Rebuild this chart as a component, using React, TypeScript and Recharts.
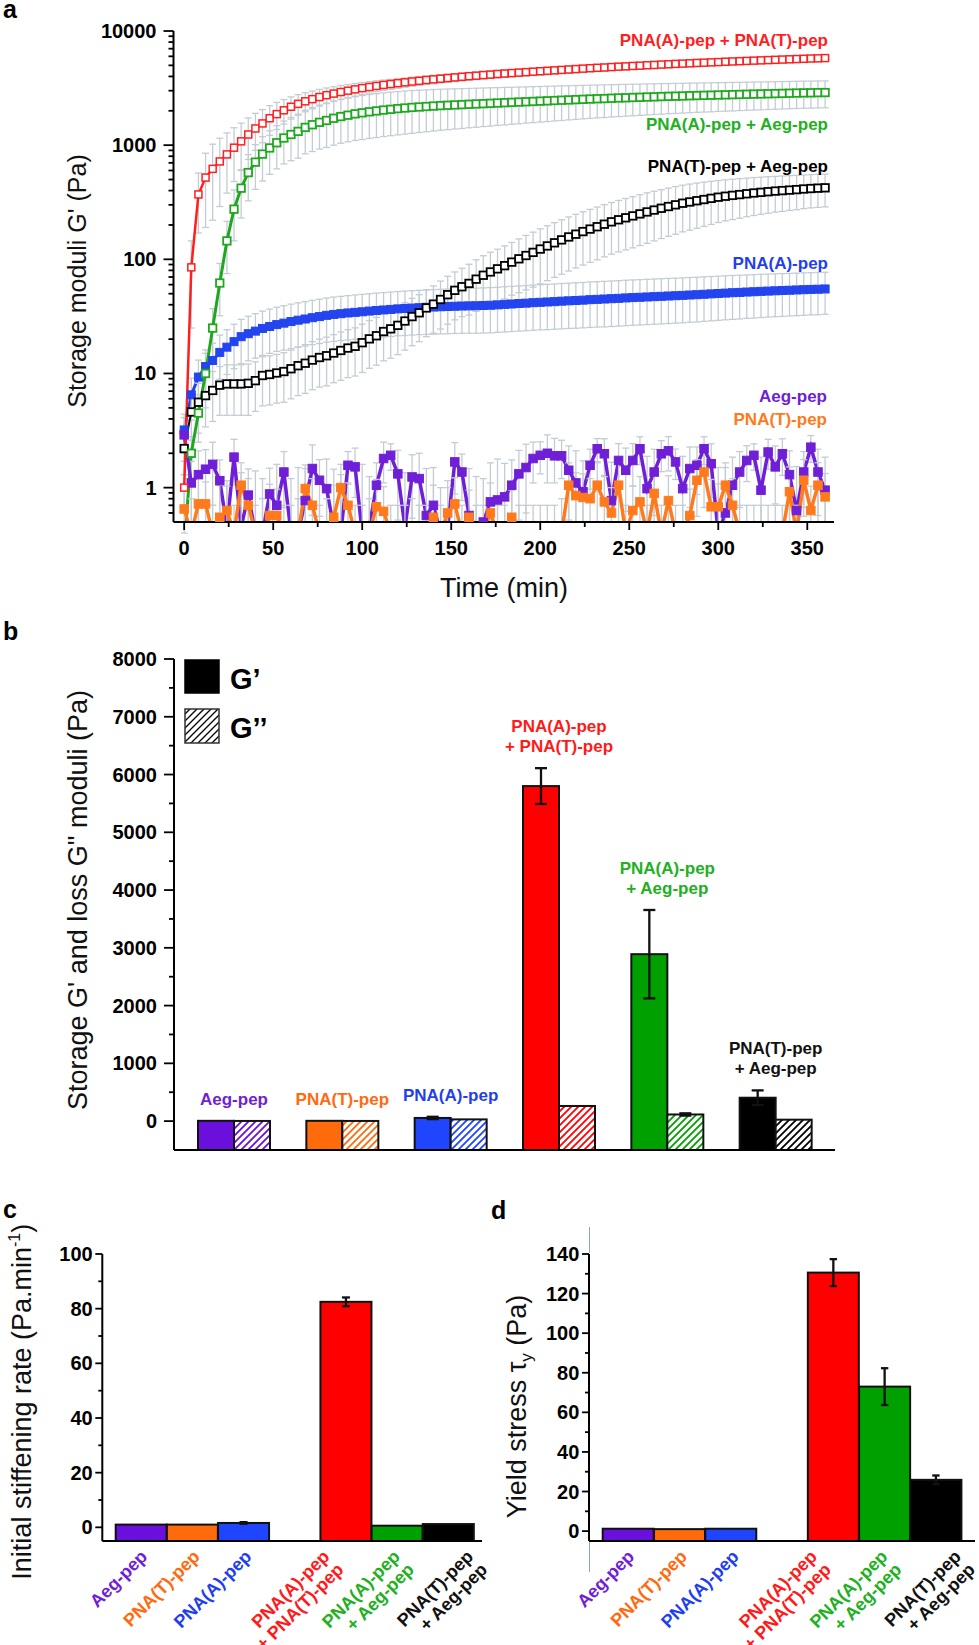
import React from 'react'
import { LineChart, Line, XAxis, YAxis, ErrorBar, BarChart, Bar, LabelList, Legend } from 'recharts'

const FONT = '"Liberation Sans", Arial, Helvetica, sans-serif'

// ---------- panel a : G' against time ----------
const aTime = [0, 4, 8, 12, 16, 20, 24, 28, 32, 36,
  40, 44, 48, 52, 56, 60, 64, 68, 72, 76,
  80, 84, 88, 92, 96, 100, 104, 108, 112, 116,
  120, 124, 128, 132, 136, 140, 144, 148, 152, 156,
  160, 164, 168, 172, 176, 180, 184, 188, 192, 196,
  200, 204, 208, 212, 216, 220, 224, 228, 232, 236,
  240, 244, 248, 252, 256, 260, 264, 268, 272, 276,
  280, 284, 288, 292, 296, 300, 304, 308, 312, 316,
  320, 324, 328, 332, 336, 340, 344, 348, 352, 356,
  360]

const aPnaAPnaT = [1, 85, 370, 520, 620, 720, 830, 950, 1080, 1240,
  1400, 1550, 1720, 1870, 2020, 2170, 2300, 2420, 2530, 2640,
  2740, 2830, 2920, 3000, 3080, 3160, 3230, 3300, 3370, 3430,
  3490, 3550, 3610, 3660, 3720, 3770, 3820, 3870, 3920, 3970,
  4020, 4060, 4110, 4150, 4200, 4240, 4280, 4320, 4360, 4400,
  4440, 4480, 4520, 4560, 4600, 4640, 4680, 4720, 4760, 4790,
  4830, 4870, 4900, 4940, 4970, 5010, 5040, 5080, 5110, 5150,
  5180, 5210, 5250, 5280, 5310, 5340, 5380, 5410, 5440, 5470,
  5500, 5530, 5560, 5590, 5620, 5650, 5680, 5710, 5740, 5760,
  5790]
const aPnaAPnaTErr = [0.3, 60, 200, 330, 400, 430, 450, 470, 480, 490,
  500, 500, 500, 500, 490, 480, 470, 460, 450, 440,
  430, 420, 410, 400, 390, 380, 370, 360, 350, 345,
  340, 335, 330, 325, 320, 318, 316, 314, 312, 310,
  310, 310, 310, 310, 310, 310, 310, 310, 310, 310,
  310, 310, 310, 310, 310, 310, 310, 310, 310, 310,
  310, 310, 310, 310, 310, 310, 310, 310, 310, 310,
  310, 310, 310, 310, 310, 310, 310, 310, 310, 310,
  310, 310, 310, 310, 310, 310, 310, 310, 310, 310,
  310]

const aPnaAAeg = [0.3, 2.0, 4.5, 10, 25, 62, 145, 275, 420, 575,
  710, 835, 945, 1050, 1155, 1240, 1320, 1430, 1510, 1585,
  1645, 1720, 1780, 1830, 1880, 1920, 1960, 1995, 2030, 2060,
  2090, 2115, 2140, 2160, 2180, 2200, 2220, 2235, 2250, 2265,
  2280, 2295, 2310, 2325, 2340, 2355, 2370, 2385, 2400, 2415,
  2430, 2445, 2460, 2475, 2490, 2505, 2520, 2535, 2550, 2560,
  2575, 2590, 2600, 2615, 2625, 2640, 2650, 2665, 2675, 2685,
  2695, 2710, 2720, 2730, 2740, 2750, 2760, 2770, 2780, 2790,
  2800, 2810, 2820, 2830, 2840, 2850, 2860, 2870, 2875, 2885,
  2890]
const aPnaAAegErr = [0.1, 0.8, 2, 5, 12, 30, 70, 130, 190, 250,
  300, 350, 390, 430, 470, 510, 550, 590, 630, 660,
  690, 720, 740, 760, 780, 800, 815, 830, 840, 850,
  860, 865, 870, 870, 870, 870, 870, 870, 865, 865,
  860, 860, 855, 855, 850, 850, 845, 845, 840, 840,
  835, 835, 830, 830, 825, 825, 820, 820, 815, 815,
  810, 810, 805, 805, 800, 800, 795, 795, 790, 790,
  785, 785, 780, 780, 780, 775, 775, 775, 770, 770,
  770, 770, 768, 768, 766, 766, 766, 765, 765, 765,
  765]

const aPnaTAeg = [2.2, 4.6, 5.6, 6.4, 7.1, 7.9, 8.1, 8.1, 8.1, 8.2,
  8.65, 9.6, 9.8, 10.1, 10.4, 11.0, 11.7, 12.3, 13.1, 13.8,
  14.3, 15.1, 15.9, 16.7, 17.3, 18.6, 20.1, 21.4, 23.3, 24.6,
  26.4, 28.8, 31.5, 34, 37.5, 40.5, 44.5, 49, 53.5, 57.5,
  61.5, 67, 72.5, 77.5, 82.5, 88, 94.5, 101, 108, 115,
  123, 131, 139.5, 148, 157, 166, 175, 184, 193, 203,
  213, 222, 231, 240, 250, 260, 270, 280, 290, 300,
  310, 318, 326, 334, 342, 350, 357, 363, 369, 375,
  381, 386, 391, 396, 400, 404, 408, 413, 417, 420,
  423]
const aPnaTAegErr = [0.9, 2.0, 2.6, 3.0, 3.3, 3.6, 3.8, 3.8, 3.8, 3.9,
  4.0, 4.4, 4.5, 4.6, 4.8, 5.0, 5.3, 5.6, 5.9, 6.2,
  6.5, 6.8, 7.2, 7.5, 7.8, 8.4, 9.0, 9.6, 10.4, 11,
  11.8, 12.8, 14, 15, 16.5, 18, 20, 22, 24, 26,
  29, 32, 35, 38, 40, 43, 46, 50, 54, 58,
  62, 66, 70, 74, 78, 82, 86, 90, 94, 98,
  102, 106, 110, 114, 118, 122, 125, 128, 131, 134,
  136, 138, 139, 140, 140, 140, 140, 140, 140, 139,
  139, 138, 138, 137, 137, 136, 136, 135, 135, 135,
  135]

const aPnaA = [3.2, 6.5, 9.3, 11.5, 13, 15.3, 17, 19, 21, 22.3,
  23.5, 24.8, 25.8, 26.8, 27.6, 28.5, 29.3, 30, 30.8, 31.5,
  32.3, 32.9, 33.4, 33.9, 34.3, 34.7, 35.2, 35.6, 36, 36.4,
  36.8, 37.1, 37.4, 37.7, 38, 38.2, 38.4, 38.6, 38.8, 39,
  39.1, 39.2, 39.4, 39.6, 39.9, 40.3, 40.6, 41.0, 41.3, 41.7,
  42.0, 42.3, 42.6, 43.0, 43.3, 43.6, 43.9, 44.3, 44.6, 44.9,
  45.2, 45.5, 45.9, 46.2, 46.5, 46.8, 47.1, 47.4, 47.7, 48.0,
  48.3, 48.7, 49.0, 49.4, 49.8, 50.2, 50.6, 51.0, 51.3, 51.7,
  52.0, 52.4, 52.7, 53.0, 53.3, 53.6, 53.9, 54.2, 54.5, 54.7,
  55.0]
const aPnaAErr = [1.2, 2.6, 3.8, 4.6, 5.4, 6.4, 7.2, 8, 8.8, 9.4,
  9.9, 10.4, 10.8, 11.2, 11.6, 12, 12.3, 12.6, 12.9, 13.2,
  13.5, 13.8, 14, 14.2, 14.4, 14.6, 14.8, 15, 15.1, 15.3,
  15.4, 15.6, 15.7, 15.8, 16, 16.1, 16.2, 16.3, 16.4, 16.5,
  16.6, 16.7, 16.8, 16.9, 17, 17.2, 17.3, 17.5, 17.6, 17.8,
  17.9, 18.1, 18.2, 18.4, 18.5, 18.7, 18.8, 19, 19.1, 19.3,
  19.4, 19.5, 19.7, 19.8, 19.9, 20, 20.1, 20.2, 20.3, 20.4,
  20.5, 20.6, 20.7, 20.8, 20.9, 21, 21.1, 21.2, 21.3, 21.3,
  21.4, 21.5, 21.5, 21.6, 21.7, 21.7, 21.8, 21.9, 21.9, 22,
  22]

const aAeg = [2.9, 1.1, 1.3, 1.45, 1.6, 1.15, 0.45, 1.85, 0.45, 0.86,
  0.4, 0.4, 0.88, 0.7, 1.37, 0.4, 0.4, 0.77, 1.47, 1.16,
  0.98, 0.45, 0.4, 1.57, 1.52, 0.4, 0.45, 1.05, 1.8, 1.92,
  1.32, 0.45, 1.24, 1.2, 0.57, 0.7, 0.4, 0.45, 1.68, 1.37,
  0.57, 0.45, 0.5, 0.75, 0.78, 0.83, 1.05, 1.32, 1.5, 1.8,
  1.92, 2.0, 1.9, 1.9, 1.42, 1.1, 0.92, 1.57, 2.19, 1.98,
  0.77, 1.73, 1.42, 1.73, 2.19, 0.98, 1.37, 1.98, 2.1, 1.68,
  0.98, 1.47, 1.57, 2.19, 1.62, 0.4, 0.6, 1.05, 1.37, 1.73,
  1.92, 0.95, 2.05, 1.52, 1.98, 1.3, 0.63, 1.37, 2.26, 1.37,
  0.95]
const aAegErr = [1.2, 0.6, 0.8, 0.7, 0.9, 0.6, 0.7, 0.8, 0.9, 0.6,
  1.0, 0.8, 0.6, 0.9, 0.7, 0.8, 1.1, 0.7, 0.9, 0.6,
  0.8, 1.0, 0.9, 0.5, 0.7, 1.2, 0.8, 0.6, 0.7, 0.5,
  0.8, 0.9, 0.7, 0.8, 0.9, 0.8, 0.6, 0.7, 0.8, 0.6,
  0.9, 0.8, 0.7, 0.9, 1.0, 0.8, 0.7, 0.8, 0.9, 0.7,
  0.6, 0.9, 0.8, 0.7, 0.9, 1.0, 0.8, 0.6, 0.5, 0.7,
  0.9, 0.7, 0.8, 0.7, 0.6, 0.9, 0.8, 0.6, 0.7, 0.5,
  0.9, 0.8, 0.7, 0.6, 0.8, 1.1, 0.9, 0.8, 0.7, 0.6,
  0.5, 0.9, 0.6, 0.8, 0.7, 0.8, 0.9, 0.7, 0.6, 0.8,
  0.9]

const aPnaT = [0.65, 0.4, 0.72, 0.72, 0.4, 0.55, 0.63, 0.4, 1.05, 0.7,
  0.4, 0.4, 0.57, 0.57, 0.4, 0.4, 0.4, 0.98, 0.7, 0.4,
  0.4, 0.55, 1.0, 0.7, 0.4, 0.4, 0.4, 0.68, 0.62, 0.4,
  0.4, 0.4, 0.4, 0.4, 0.4, 0.55, 0.4, 0.6, 0.72, 0.4,
  0.55, 0.4, 0.4, 0.6, 0.4, 0.4, 0.55, 0.4, 0.4, 0.4,
  0.4, 0.4, 0.4, 0.4, 1.05, 0.85, 0.82, 0.8, 1.05, 0.75,
  0.6, 1.05, 0.4, 0.63, 0.75, 0.4, 0.89, 0.4, 0.77, 0.4,
  0.4, 0.57, 1.16, 1.37, 0.68, 0.68, 1.05, 0.7, 0.4, 0.4,
  0.4, 0.4, 0.4, 0.4, 0.4, 0.92, 0.4, 1.16, 0.63, 1.05,
  0.83]
const aPnaTErr = [0.3, 0.4, 0.5, 0.4, 0.3, 0.5, 0.4, 0.3, 0.6, 0.5,
  0.3, 0.4, 0.5, 0.4, 0.3, 0.3, 0.4, 0.6, 0.5, 0.3,
  0.4, 0.5, 0.6, 0.4, 0.3, 0.3, 0.4, 0.5, 0.4, 0.3,
  0.3, 0.3, 0.4, 0.3, 0.3, 0.5, 0.3, 0.4, 0.5, 0.3,
  0.4, 0.3, 0.3, 0.5, 0.3, 0.3, 0.4, 0.3, 0.3, 0.3,
  0.3, 0.3, 0.3, 0.4, 0.6, 0.5, 0.5, 0.4, 0.6, 0.5,
  0.4, 0.6, 0.3, 0.4, 0.5, 0.3, 0.5, 0.3, 0.5, 0.3,
  0.3, 0.4, 0.6, 0.7, 0.5, 0.4, 0.6, 0.5, 0.3, 0.3,
  0.3, 0.3, 0.3, 0.3, 0.3, 0.6, 0.3, 0.6, 0.4, 0.6,
  0.5]

const aXTicks = [0, 25, 50, 75, 100, 125, 150, 175, 200, 225, 250, 275, 300, 325, 350]
const aYTicks = [0.6, 0.7, 0.8, 0.9, 1, 2, 3, 4, 5, 6, 7, 8, 9, 10, 20, 30, 40, 50, 60, 70, 80, 90,
  100, 200, 300, 400, 500, 600, 700, 800, 900, 1000, 2000, 3000, 4000, 5000, 6000, 7000, 8000, 9000, 10000]
const aYMin = 0.5

// ---------- panel b : final G' and G'' ----------
const bGroups = ['Aeg-pep', 'PNA(T)-pep', 'PNA(A)-pep', 'PNA(A)-pep\n+ PNA(T)-pep', 'PNA(A)-pep\n+ Aeg-pep', 'PNA(T)-pep\n+ Aeg-pep']
const bStorage = [5, 5, 55, 5800, 2890, 405]
const bStorageErr = [0, 0, 20, 310, 765, 127]
const bLoss = [3, 3, 30, 262, 115, 25]
const bLossErr = [0, 0, 5, 12, 20, 5]
const bBase = -500
const bYTicks = [0, 500, 1000, 1500, 2000, 2500, 3000, 3500, 4000, 4500, 5000, 5500, 6000, 6500, 7000, 7500, 8000]
const bLegend = ['G’', 'G’’']

// ---------- panels c and d ----------
const cdGroups = ['Aeg-pep', 'PNA(T)-pep', 'PNA(A)-pep', '', 'PNA(A)-pep\n+ PNA(T)-pep', 'PNA(A)-pep\n+ Aeg-pep', 'PNA(T)-pep\n+ Aeg-pep']
const cRate = [1.0, 1.0, 1.6, null, 82.5, 0.6, 1.2]
const cRateErr = [0, 0, 0.3, 0, 1.6, 0, 0]
const cBase = -5
const cYTicks = [0, 10, 20, 30, 40, 50, 60, 70, 80, 90, 100]
const dYield = [1.2, 1.0, 1.2, null, 130.6, 73, 25.9]
const dYieldErr = [0, 0, 0, 0, 6.8, 9.3, 2.2]
const dBase = -5
const dYTicks = [0, 10, 20, 30, 40, 50, 60, 70, 80, 90, 100, 110, 120, 130, 140]

const LINE = { red: '#ff1f1f', green: '#1fa81f', black: '#000000', blue: '#2344ee', purple: '#6f1fd6', orange: '#ff7a1c' }
const BAR_FILL = ['#6a0fdc', '#ff6a0a', '#1f45ff', '#ff0000', '#00a000', '#000000']
const CD_FILL = ['#6a0fdc', '#ff6a0a', '#1f45ff', '#ffffff', '#ff0000', '#00a000', '#000000']
const TXT = ['#6f1fd6', '#ff6a10', '#1f3fef', '#ff1a1a', '#22b022', '#111111']
const CD_TXT = ['#6f1fd6', '#ff6a10', '#1f3fef', '#000', '#ff1a1a', '#22b022', '#111111']
const ERR_GREY = '#c3ccd4'

// error bars stop at the bottom of the log axis
const errPair = (v: number, e: number) => [v - Math.max(v - e, aYMin), e]

const aRows = aTime.map((t, i) => ({
  t,
  red: aPnaAPnaT[i], redErr: errPair(aPnaAPnaT[i], aPnaAPnaTErr[i]),
  green: aPnaAAeg[i], greenErr: errPair(aPnaAAeg[i], aPnaAAegErr[i]),
  black: aPnaTAeg[i], blackErr: errPair(aPnaTAeg[i], aPnaTAegErr[i]),
  blue: aPnaA[i], blueErr: errPair(aPnaA[i], aPnaAErr[i]),
  purple: aAeg[i], purpleErr: errPair(aAeg[i], aAegErr[i]),
  orange: aPnaT[i], orangeErr: errPair(aPnaT[i], aPnaTErr[i]),
}))

const bRows = bGroups.map((name, i) => ({ name, i, gp: [bBase, bStorage[i]], gpp: [bBase, bLoss[i]] }))
const cRows = cdGroups.map((name, i) => ({ name, i, v: cRate[i] == null ? null : [cBase, cRate[i]] }))
const dRows = cdGroups.map((name, i) => ({ name, i, v: dYield[i] == null ? null : [dBase, dYield[i]] }))

function squareDot(size: number, stroke: string, fill: string, sw: number) {
  return (props: any) => {
    const { cx, cy, index } = props
    if (cx == null || cy == null || !isFinite(cy)) return <g key={`d${index}`} />
    return <rect key={`d${index}`} x={cx - size / 2} y={cy - size / 2} width={size} height={size} fill={fill} stroke={stroke} strokeWidth={sw} />
  }
}

function makeYTick(isMajor: (v: number) => boolean, majorLen: number, minorLen: number, gap: number) {
  return (props: any) => {
    const { x, y, payload } = props
    const v = payload.value
    const major = isMajor(v)
    return (
      <g>
        <line x1={x - (major ? majorLen : minorLen)} x2={x} y1={y} y2={y} stroke="#000" strokeWidth={1.8} />
        {major ? (
          <text x={x - gap} y={y + 7} textAnchor="end" fontFamily={FONT} fontWeight={700} fontSize={20} fill="#000">{v}</text>
        ) : null}
      </g>
    )
  }
}

const isDecade = (v: number) => Math.abs(Math.log10(v) - Math.round(Math.log10(v))) < 1e-9

const aXTick = (props: any) => {
  const { x, y, payload } = props
  const major = payload.value % 50 === 0
  return (
    <g>
      <line x1={x} x2={x} y1={y} y2={y + (major ? 8 : 5)} stroke="#000" strokeWidth={1.8} />
      {major ? (
        <text x={x} y={y + 33} textAnchor="middle" fontFamily={FONT} fontWeight={700} fontSize={20} fill="#000">{payload.value}</text>
      ) : null}
    </g>
  )
}

// where each rotated category label ends, relative to its tick
const ROT_SHIFT = [7, 8.3, 9, 0, -15.5, 3.8, 26]

const rotTick = (props: any) => {
  const { x, y, index, payload } = props
  const name: string = payload.value
  if (!name) return <g />
  const lines = name.split('\n')
  const bx = x + ROT_SHIFT[index]
  const by = y + 16.7
  return (
    <g>
      {lines.map((ln, k) => {
        const lx = bx + 14 * k
        const ly = by + 13 * k
        return (
          <text key={k} x={lx} y={ly} transform={`rotate(-45 ${lx} ${ly})`} textAnchor="end"
            fontFamily={FONT} fontWeight={700} fontSize={18} fill={CD_TXT[index]}>{ln}</text>
        )
      })}
    </g>
  )
}

function barShape(vals: (number | null)[], errs: number[], base: number, fills: string[], cap: number) {
  return (props: any) => {
    const i = props.payload && props.payload.i != null ? props.payload.i : props.index
    const v = vals[i]
    const { x, y, width, height } = props
    if (v == null || !isFinite(height) || !isFinite(y)) return <g />
    const ppu = height / (v - base)
    const e = (errs[i] || 0) * ppu
    const cx = x + width / 2
    return (
      <g>
        <rect x={x} y={y} width={width} height={height} fill={fills[i]} stroke="#111" strokeWidth={2} />
        {e > 0.8 ? (
          <g stroke="#111" strokeWidth={2.3}>
            <line x1={cx} x2={cx} y1={y - e} y2={y + e} />
            <line x1={cx - cap} x2={cx + cap} y1={y - e} y2={y - e} />
            <line x1={cx - cap} x2={cx + cap} y1={y + e} y2={y + e} />
          </g>
        ) : null}
      </g>
    )
  }
}

const bGroupLabel = (props: any) => {
  const { x, y, width, height, index } = props
  const ppu = height / (bStorage[index] - bBase)
  const errTop = y - bStorageErr[index] * ppu
  const lines = bGroups[index].split('\n')
  const cx = x + width
  return (
    <g>
      {lines.map((ln, k) => (
        <text key={k} x={cx} y={errTop - 16 - 20 * (lines.length - 1 - k)} textAnchor="middle"
          fontFamily={FONT} fontWeight={700} fontSize={17} fill={TXT[index]}>{ln}</text>
      ))}
    </g>
  )
}

const hatchPath = 'M-1.75,1.75 L1.75,-1.75 M0,7 L7,0 M5.25,8.75 L8.75,5.25'

function yTitle(x: number, y: number, content: React.ReactNode, size = 27) {
  return () => (
    <text x={x} y={y} transform={`rotate(-90 ${x} ${y})`} textAnchor="middle" fontFamily={FONT} fontSize={size} fill="#111">{content}</text>
  )
}

const axisStroke = { stroke: '#000', strokeWidth: 2 }

export default function App() {
  return (
    <div style={{ position: 'absolute', left: 0, top: 0, width: 979, height: 1645, background: '#fff', overflow: 'hidden' }}>
      {/* a */}
      <div style={{ position: 'absolute', left: 0, top: 0 }}>
        <LineChart width={979} height={620} data={aRows} margin={{ top: 31, right: 145, bottom: 0, left: 0 }}>
          <XAxis dataKey="t" type="number" domain={[-6, 365]} allowDataOverflow ticks={aXTicks} interval={0}
            height={98} tickSize={0} tickMargin={0} tickLine={false} axisLine={axisStroke} tick={aXTick}
            label={{
              content: () => (
                <text x={504} y={597} textAnchor="middle" fontFamily={FONT} fontSize={27} fill="#111">Time (min)</text>
              ),
            }} />
          <YAxis scale="log" domain={[aYMin, 10000]} allowDataOverflow ticks={aYTicks} interval={0} width={173.5}
            tickSize={0} tickMargin={0} tickLine={false} axisLine={axisStroke} tick={makeYTick(isDecade, 10, 5, 17)}
            label={{ content: yTitle(86, 281, "Storage moduli G' (Pa)", 25) }} />
          <Line dataKey="blue" type="linear" stroke={LINE.blue} strokeWidth={3} isAnimationActive={false}
            dot={squareDot(8, LINE.blue, LINE.blue, 1)} activeDot={false}>
            <ErrorBar dataKey="blueErr" direction="y" width={3.5} stroke={ERR_GREY} strokeWidth={1.3} />
          </Line>
          <Line dataKey="black" type="linear" stroke={LINE.black} strokeWidth={2} isAnimationActive={false}
            dot={squareDot(7.5, LINE.black, '#fff', 1.8)} activeDot={false}>
            <ErrorBar dataKey="blackErr" direction="y" width={3.5} stroke={ERR_GREY} strokeWidth={1.3} />
          </Line>
          <Line dataKey="green" type="linear" stroke={LINE.green} strokeWidth={3} isAnimationActive={false}
            dot={squareDot(7.5, LINE.green, '#fff', 1.8)} activeDot={false}>
            <ErrorBar dataKey="greenErr" direction="y" width={3.5} stroke={ERR_GREY} strokeWidth={1.3} />
          </Line>
          <Line dataKey="purple" type="linear" stroke={LINE.purple} strokeWidth={3.5} isAnimationActive={false}
            dot={squareDot(8.5, LINE.purple, LINE.purple, 1)} activeDot={false}>
            <ErrorBar dataKey="purpleErr" direction="y" width={3.5} stroke={ERR_GREY} strokeWidth={1.3} />
          </Line>
          <Line dataKey="orange" type="linear" stroke={LINE.orange} strokeWidth={3.5} isAnimationActive={false}
            dot={squareDot(8.5, LINE.orange, LINE.orange, 1)} activeDot={false}>
            <ErrorBar dataKey="orangeErr" direction="y" width={3.5} stroke={ERR_GREY} strokeWidth={1.3} />
          </Line>
          <Line dataKey="red" type="linear" stroke={LINE.red} strokeWidth={2.5} isAnimationActive={false}
            dot={squareDot(7, LINE.red, '#fff', 1.5)} activeDot={false}>
            <ErrorBar dataKey="redErr" direction="y" width={3.5} stroke={ERR_GREY} strokeWidth={1.3} />
          </Line>
        </LineChart>
      </div>

      {/* b */}
      <div style={{ position: 'absolute', left: 0, top: 600 }}>
        <BarChart width={979} height={560} data={bRows} margin={{ top: 59, right: 144, bottom: 0, left: 0 }} barGap={0}>
          <defs>
            {BAR_FILL.map((c, i) => (
              <pattern key={i} id={`hatch-${i}`} patternUnits="userSpaceOnUse" width={7} height={7}>
                <rect width={7} height={7} fill="#fff" />
                <path d={hatchPath} stroke={c} strokeWidth={1.8} />
              </pattern>
            ))}
          </defs>
          <XAxis dataKey="name" type="category" height={10} padding={{ left: 6, right: 5 }} tick={false} tickLine={false} axisLine={axisStroke} />
          <YAxis type="number" domain={[bBase, 8000]} allowDataOverflow ticks={bYTicks} interval={0} width={174}
            tickSize={0} tickMargin={0} tickLine={false} axisLine={axisStroke}
            tick={makeYTick((v) => v % 1000 === 0, 10, 5, 17)}
            label={{ content: yTitle(86.5, 300, 'Storage G\' and loss G" moduli (Pa)') }} />
          <Legend layout="horizontal" verticalAlign="middle" align="center"
            wrapperStyle={{ position: 'absolute', left: 184, top: 59, width: 140, height: 90 }}
            content={() => (
              <svg width={140} height={90} style={{ display: 'block' }}>
                <defs>
                  <pattern id="hatch-legend" patternUnits="userSpaceOnUse" width={7} height={7}>
                    <rect width={7} height={7} fill="#fff" />
                    <path d={hatchPath} stroke="#000" strokeWidth={1.3} />
                  </pattern>
                </defs>
                <rect x={1} y={1} width={34} height={33} fill="#000" stroke="#000" strokeWidth={1.5} />
                <rect x={1} y={50} width={34} height={34} fill="url(#hatch-legend)" stroke="#333" strokeWidth={1.5} />
                <text x={46} y={29.5} fontFamily={FONT} fontWeight={700} fontSize={29} fill="#000">{bLegend[0]}</text>
                <text x={46} y={78.5} fontFamily={FONT} fontWeight={700} fontSize={29} fill="#000">{bLegend[1]}</text>
              </svg>
            )} />
          <Bar dataKey="gp" barSize={36} isAnimationActive={false} shape={barShape(bStorage, bStorageErr, bBase, BAR_FILL, 6)}>
            <LabelList dataKey="name" content={bGroupLabel} />
          </Bar>
          <Bar dataKey="gpp" barSize={36} isAnimationActive={false}
            shape={barShape(bLoss, bLossErr, bBase, BAR_FILL.map((_, i) => `url(#hatch-${i})`), 6)} />
        </BarChart>
      </div>

      {/* c */}
      <div style={{ position: 'absolute', left: 0, top: 1170 }}>
        <BarChart width={520} height={475} data={cRows} margin={{ top: 84, right: 38, bottom: 0, left: 0 }} barCategoryGap={0}>
          <XAxis dataKey="name" type="category" height={104} padding={{ left: 13.4, right: 8 }} interval={0}
            tickSize={0} tickMargin={0} tickLine={false} axisLine={axisStroke} tick={rotTick} />
          <YAxis type="number" domain={[cBase, 100]} allowDataOverflow ticks={cYTicks} interval={0} width={102.3}
            tickSize={0} tickMargin={0} tickLine={false} axisLine={axisStroke}
            tick={makeYTick((v) => v % 20 === 0, 7, 4, 9.6)}
            label={{
              content: yTitle(30.7, 231.7, (
                <>Initial stiffening rate (Pa.min<tspan dy={-11} fontSize={16}>-1</tspan><tspan dy={11}>)</tspan></>
              )),
            }} />
          <Bar dataKey="v" barSize={51} isAnimationActive={false} shape={barShape(cRate, cRateErr, cBase, CD_FILL, 4)} />
        </BarChart>
      </div>

      {/* d */}
      <div style={{ position: 'absolute', left: 489, top: 1170 }}>
        <BarChart width={490} height={475} data={dRows} margin={{ top: 84, right: 4, bottom: 0, left: 0 }} barCategoryGap={0}>
          <XAxis dataKey="name" type="category" height={104} padding={{ left: 13.7, right: 13.3 }} interval={0}
            tickSize={0} tickMargin={0} tickLine={false} axisLine={axisStroke} tick={rotTick} />
          <YAxis type="number" domain={[dBase, 140]} allowDataOverflow ticks={dYTicks} interval={0} width={100}
            tickSize={0} tickMargin={0} tickLine={false} axisLine={axisStroke}
            tick={makeYTick((v) => v % 20 === 0, 7, 4, 9.7)}
            label={{
              content: yTitle(37, 236.5, (
                <>Yield stress τ<tspan dy={6} fontSize={17}>y</tspan><tspan dy={-6}> (Pa)</tspan></>
              )),
            }} />
          <Bar dataKey="v" barSize={51} isAnimationActive={false} shape={barShape(dYield, dYieldErr, dBase, CD_FILL, 3.7)} />
        </BarChart>
      </div>

      {/* panel letters and series names */}
      <svg width={979} height={1645} style={{ position: 'absolute', left: 0, top: 0, pointerEvents: 'none' }}>
        <g fontFamily={FONT} fontWeight={700} fontSize={25} fill="#000">
          <text x={3} y={18}>a</text>
          <text x={3} y={640}>b</text>
          <text x={3} y={1218}>c</text>
          <text x={491} y={1219}>d</text>
        </g>
        <g fontFamily={FONT} fontWeight={700} fontSize={17} textAnchor="end">
          <text x={828} y={46} fill={LINE.red}>PNA(A)-pep + PNA(T)-pep</text>
          <text x={828} y={130} fill="#22b022">PNA(A)-pep + Aeg-pep</text>
          <text x={828} y={172} fill="#000">PNA(T)-pep + Aeg-pep</text>
          <text x={828} y={269} fill="#1f3fef">PNA(A)-pep</text>
          <text x={827} y={401.5} fill={LINE.purple}>Aeg-pep</text>
          <text x={827} y={424.5} fill={LINE.orange}>PNA(T)-pep</text>
        </g>
        <line x1={589.5} x2={589.5} y1={1227} y2={1253} stroke="#8ea2cf" strokeWidth={1} />
        <line x1={589.5} x2={589.5} y1={1542} y2={1572} stroke="#8ea2cf" strokeWidth={1} />
      </svg>
    </div>
  )
}
